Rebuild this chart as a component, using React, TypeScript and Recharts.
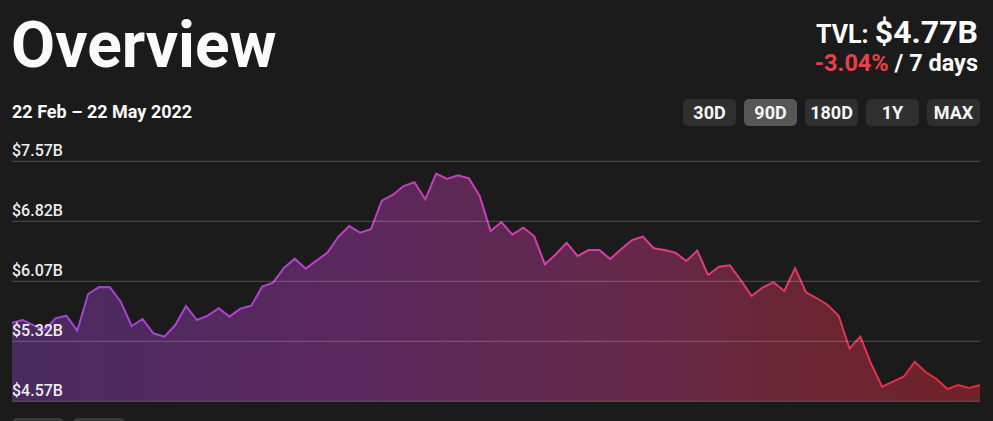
import React from "react";
import { AreaChart, Area, XAxis, YAxis, ReferenceLine } from "recharts";

// TVL in billions of USD, one value per day (22 Feb - 22 May 2022)
const tvlValues = [
  5.553, 5.586, 5.52, 5.461, 5.607, 5.64, 5.453, 5.911, 5.999, 5.995,
  5.815, 5.511, 5.599, 5.42, 5.378, 5.52, 5.761, 5.586, 5.64, 5.733,
  5.628, 5.728, 5.765, 6.003, 6.053, 6.236, 6.353, 6.228, 6.328, 6.428,
  6.624, 6.761, 6.678, 6.72, 7.078, 7.149, 7.261, 7.308, 7.095, 7.415,
  7.349, 7.395, 7.358, 7.136, 6.699, 6.811, 6.653, 6.74, 6.636, 6.283,
  6.408, 6.553, 6.386, 6.461, 6.461, 6.349, 6.47, 6.586, 6.628, 6.483,
  6.461, 6.428, 6.324, 6.453, 6.149, 6.253, 6.27, 6.086, 5.886, 5.99,
  6.058, 5.949, 6.233, 5.933, 5.858, 5.774, 5.64, 5.23, 5.378, 5.036,
  4.753, 4.815, 4.88, 5.065, 4.936, 4.849, 4.724, 4.774, 4.736, 4.774,
];

const yTicks = [4.57, 5.32, 6.07, 6.82, 7.57];
const yTickLabels = ["$4.57B", "$5.32B", "$6.07B", "$6.82B", "$7.57B"];

const rangeButtons = ["30D", "90D", "180D", "1Y", "MAX"];
const selectedRange = "90D";

const MONTHS = ["Jan", "Feb", "Mar", "Apr", "May", "Jun", "Jul", "Aug", "Sep", "Oct", "Nov", "Dec"];

const data = tvlValues.map((tvl, i) => {
  const d = new Date(Date.UTC(2022, 1, 22 + i));
  return { date: `${d.getUTCDate()} ${MONTHS[d.getUTCMonth()]}`, tvl };
});

const FONT = "Roboto, 'Noto Sans', sans-serif";

function GridLabel(props: any) {
  const { viewBox, text } = props;
  if (!viewBox) return null;
  return (
    <text x={12} y={viewBox.y - 5} fill="#ececec" fontSize={16} fontWeight={500} fontFamily={FONT}>
      {text}
    </text>
  );
}

export default function App() {
  return (
    <div style={{ position: "absolute", left: 0, top: 0, width: 993, height: 421, background: "#1b1b1b", overflow: "hidden" }}>
      <svg width={993} height={421} style={{ position: "absolute", left: 0, top: 0 }} fontFamily={FONT}>
        <text x={11} y={67} fill="#fafafa" fontSize={64} fontWeight={700}>Overview</text>
        <text x={12} y={118} fill="#fafafa" fontSize={18} fontWeight={700}>22 Feb – 22 May 2022</text>

        <text x={978} y={43} textAnchor="end" fill="#fafafa" fontWeight={700}>
          <tspan fontSize={25}>TVL: </tspan>
          <tspan fontSize={32}>$4.77B</tspan>
        </text>
        <text x={978} y={71} textAnchor="end" fill="#fafafa" fontSize={23.5} fontWeight={700}>
          <tspan fill="#e8404a">-3.04%</tspan>
          <tspan> / 7 days</tspan>
        </text>

        {rangeButtons.map((b, i) => {
          const x = 683 + i * 61;
          return (
            <g key={b}>
              <rect x={x} y={99} width={53} height={27} rx={5} fill={b === selectedRange ? "#575757" : "#2f2f2f"} />
              <text x={x + 26.5} y={118.5} textAnchor="middle" fill="#f5f5f5" fontSize={18} fontWeight={700}>{b}</text>
            </g>
          );
        })}

        {/* buttons of the next section, cut off by the bottom edge */}
        <rect x={12} y={418} width={52} height={27} rx={5} fill="#3a3a3a" />
        <rect x={73} y={418} width={52} height={27} rx={5} fill="#3a3a3a" />
      </svg>

      <div style={{ position: "absolute", left: 0, top: 0 }}>
        <AreaChart width={993} height={421} data={data} margin={{ top: 161.3, right: 13, bottom: 19.7, left: 12 }}>
          <defs>
            <linearGradient id="tvlStroke" x1="0" y1="0" x2="1" y2="0">
              <stop offset="0%" stopColor="#9c45d8" />
              <stop offset="35%" stopColor="#bb3ec8" />
              <stop offset="60%" stopColor="#dc3ea6" />
              <stop offset="82%" stopColor="#e0355e" />
              <stop offset="100%" stopColor="#e02a36" />
            </linearGradient>
            <linearGradient id="tvlFill" x1="0" y1="0" x2="1" y2="0">
              <stop offset="0%" stopColor="#9c45d8" stopOpacity={0.36} />
              <stop offset="35%" stopColor="#b83cc0" stopOpacity={0.4} />
              <stop offset="60%" stopColor="#d03c96" stopOpacity={0.4} />
              <stop offset="82%" stopColor="#d63455" stopOpacity={0.42} />
              <stop offset="100%" stopColor="#d82a36" stopOpacity={0.45} />
            </linearGradient>
          </defs>
          <XAxis dataKey="date" hide />
          <YAxis hide domain={[4.57, 7.57]} ticks={yTicks} />
          <Area
            type="linear"
            dataKey="tvl"
            stroke="url(#tvlStroke)"
            strokeWidth={2}
            fill="url(#tvlFill)"
            fillOpacity={1}
            baseValue={4.57}
            dot={false}
            activeDot={false}
            isAnimationActive={false}
          />
          {yTicks.map((t, i) => (
            <ReferenceLine
              key={t}
              y={t}
              stroke="rgba(255,255,255,0.24)"
              strokeWidth={1}
              label={<GridLabel text={yTickLabels[i]} />}
            />
          ))}
        </AreaChart>
      </div>
    </div>
  );
}
